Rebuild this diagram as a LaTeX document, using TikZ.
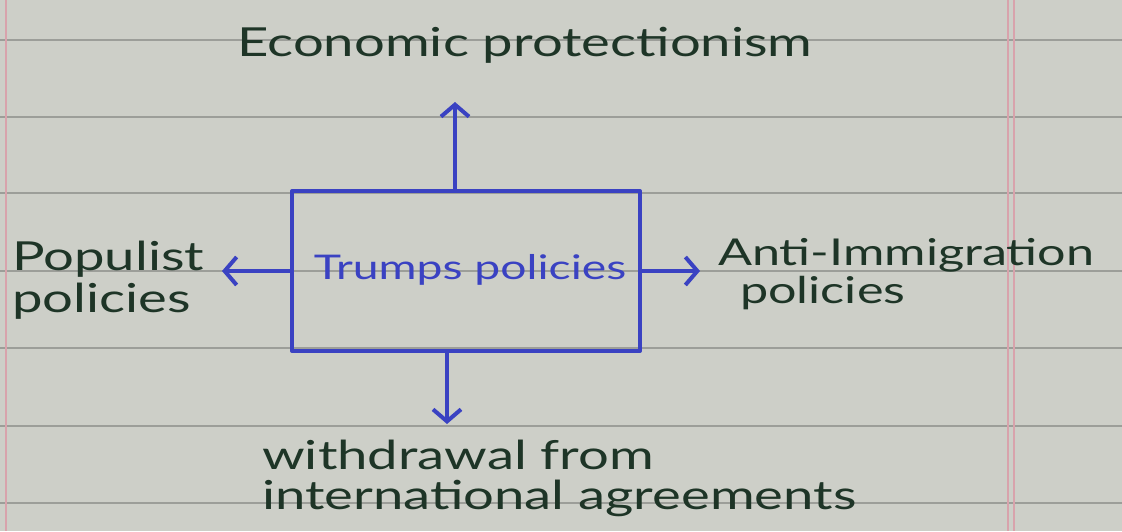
\documentclass[tikz,border=0pt]{standalone}
\usepackage{fontspec}
\setmainfont{Lato}
\newfontfamily\handfont[FakeStretch=1.36]{Lato}
\usetikzlibrary{arrows.meta}
\definecolor{paper}{HTML}{CDCFC8}
\definecolor{rule}{HTML}{9C9E99}
\definecolor{margin}{HTML}{D8A3AC}
\definecolor{pen}{HTML}{3A42C2}
\definecolor{ink}{HTML}{1E3527}
\tikzset{
  hand/.style={text=ink, font=\handfont\fontsize{40}{40}\selectfont, inner sep=0pt, align=left},
  penline/.style={draw=pen, line width=4pt, line cap=round, line join=round},
  penarrow/.style={penline, -{Straight Barb[length=12pt,width=28pt,line width=4pt]}},
}
\begin{document}
\begin{tikzpicture}[x=1pt,y=-1pt]
  \useasboundingbox (0,0) rectangle (1122,531);
  \fill[paper] (0,0) rectangle (1122,531);
  % ruled lines
  \foreach \yy in {40,117,193,271,348,426,503} {
    \draw[rule, line width=1.6pt] (0,\yy) -- (1122,\yy);
  }
  % margin lines
  \draw[margin, line width=1.2pt] (6,0) -- (6,531);
  \draw[margin, line width=1.2pt] (1008,0) -- (1008,531);
  \draw[margin, line width=1.2pt] (1014,0) -- (1014,531);

  % central box
  \node[penline, minimum width=348pt, minimum height=160pt, inner sep=0pt] (trump) at (466,271) {};
  \node[text=pen, font=\handfont\fontsize{34}{38}\selectfont, inner sep=0pt] (trumptext) at (470,270) {Trumps policies};

  % labels
  \node[hand, anchor=center] (econ) at (525,45) {Economic protectionism};
  \node[hand, anchor=west] (pop) at (12,280) {Populist\\[2pt]policies};
  \node[hand, anchor=west, font=\handfont\fontsize{37}{38}\selectfont] (anti) at (718,274) {Anti-Immigration\\[0pt]\hspace*{22pt}policies};
  \node[hand, anchor=north west] (withd) at (262,440) {withdrawal from\\international agreements};

  % arrow tips
  \coordinate (tipU) at (455,102);
  \coordinate (tipL) at (222,271);
  \coordinate (tipR) at (700,271);
  \coordinate (tipD) at (447,424);

  \draw[penarrow] (trump.north -| tipU) -- (tipU);
  \draw[penarrow] (trump.west) -- (tipL);
  \draw[penarrow] (trump.east) -- (tipR);
  \draw[penarrow] (trump.south -| tipD) -- (tipD);
\end{tikzpicture}
\end{document}
